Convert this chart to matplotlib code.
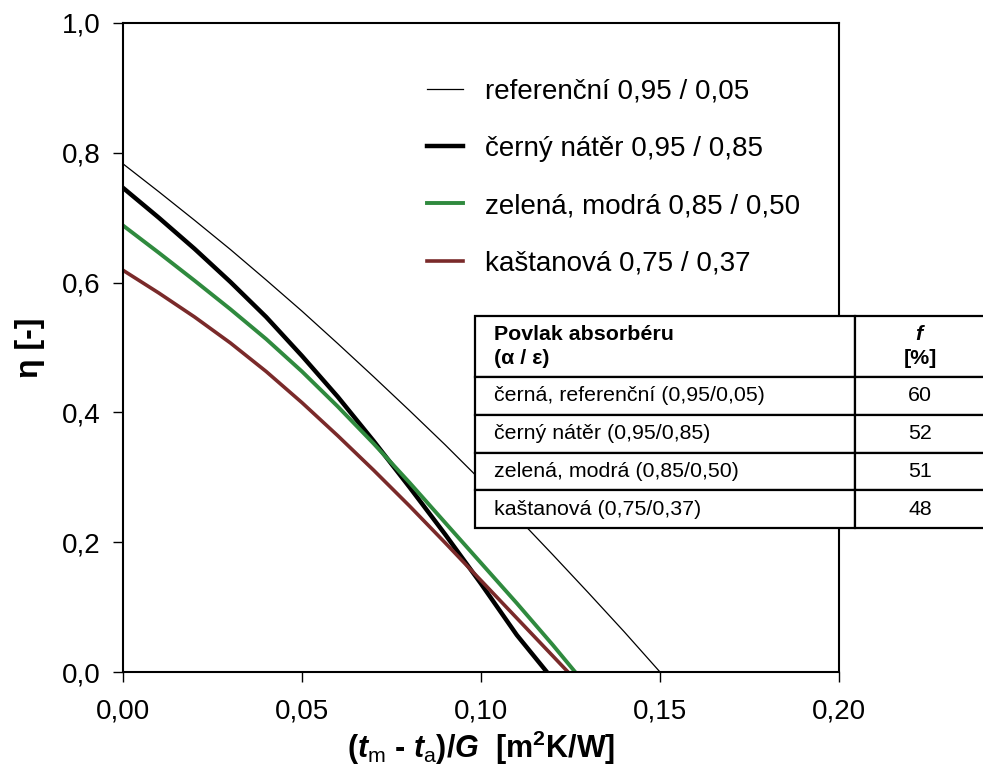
import numpy as np
import matplotlib.pyplot as plt
from matplotlib.ticker import FixedLocator, FixedFormatter

plt.rcParams['font.family'] = ['Liberation Sans', 'DejaVu Sans']
plt.rcParams['mathtext.fontset'] = 'custom'
plt.rcParams['mathtext.rm'] = 'Liberation Sans'
plt.rcParams['mathtext.it'] = 'Liberation Sans:italic:bold'
plt.rcParams['mathtext.bf'] = 'Liberation Sans:bold'

# curves: x = (tm - ta)/G, y = efficiency
x_ref = [0.0, 0.01, 0.02, 0.03, 0.04, 0.05, 0.06, 0.07, 0.08, 0.09, 0.10,
         0.11, 0.12, 0.13, 0.14, 0.150]
y_ref = [0.783, 0.740, 0.696, 0.651, 0.604, 0.556, 0.506, 0.455, 0.403, 0.350,
         0.295, 0.239, 0.181, 0.122, 0.062, 0.0]

x_black = [0.0, 0.01, 0.02, 0.03, 0.04, 0.05, 0.06, 0.07, 0.08, 0.09, 0.10,
           0.11, 0.1184]
y_black = [0.746, 0.700, 0.652, 0.601, 0.547, 0.487, 0.424, 0.356, 0.285, 0.212,
           0.136, 0.057, 0.0]

x_green = [0.0, 0.01, 0.02, 0.03, 0.04, 0.05, 0.06, 0.07, 0.08, 0.09, 0.10,
           0.11, 0.12, 0.1263]
y_green = [0.688, 0.646, 0.603, 0.559, 0.513, 0.463, 0.409, 0.352, 0.292, 0.230,
           0.168, 0.106, 0.042, 0.0]

x_brown = [0.0, 0.01, 0.02, 0.03, 0.04, 0.05, 0.06, 0.07, 0.08, 0.09, 0.10,
           0.11, 0.12, 0.1243]
y_brown = [0.619, 0.584, 0.547, 0.507, 0.463, 0.415, 0.364, 0.311, 0.256, 0.199,
           0.141, 0.083, 0.025, 0.0]

legend_labels = ['referenční 0,95 / 0,05', 'černý nátěr 0,95 / 0,85',
                 'zelená, modrá 0,85 / 0,50', 'kaštanová 0,75 / 0,37']

xticks = [0.0, 0.05, 0.10, 0.15, 0.20]
xtick_labels = ['0,00', '0,05', '0,10', '0,15', '0,20']
yticks = [0.0, 0.2, 0.4, 0.6, 0.8, 1.0]
ytick_labels = ['0,0', '0,2', '0,4', '0,6', '0,8', '1,0']

table_header = ['Povlak absorbéru\n(α / ε)', '$\\mathit{f}$\n[%]']
table_names = ['černá, referenční (0,95/0,05)', 'černý nátěr (0,95/0,85)',
               'zelená, modrá (0,85/0,50)', 'kaštanová (0,75/0,37)']
table_f = ['60', '52', '51', '48']

fig = plt.figure(figsize=(9.83, 7.78), dpi=100)
ax = fig.add_axes([123/983, 106/778, 716/983, 649/778])

ax.plot(x_ref, y_ref, color='black', lw=0.9, label=legend_labels[0])
ax.plot(x_black, y_black, color='black', lw=3.2, label=legend_labels[1])
ax.plot(x_green, y_green, color='#2f8a3e', lw=2.8, label=legend_labels[2])
ax.plot(x_brown, y_brown, color='#7a2a2a', lw=2.6, label=legend_labels[3])

ax.set_xlim(0, 0.20)
ax.set_ylim(0, 1.0)
ax.xaxis.set_major_locator(FixedLocator(xticks))
ax.xaxis.set_major_formatter(FixedFormatter(xtick_labels))
ax.yaxis.set_major_locator(FixedLocator(yticks))
ax.yaxis.set_major_formatter(FixedFormatter(ytick_labels))
ax.tick_params(axis='both', direction='out', length=7, width=1, labelsize=20)
ax.tick_params(axis='x', pad=12)
ax.tick_params(axis='y', pad=9)
for sp in ax.spines.values():
    sp.set_linewidth(1.5)

ax.set_xlabel('($\\mathit{t}_{\\mathrm{m}}$ - $\\mathit{t}_{\\mathrm{a}}$)/$\\mathit{G}$  [m$^{\\mathbf{2}}$K/W]',
              fontsize=22, fontweight='bold', labelpad=3)
ax.set_ylabel('η [-]', fontsize=23, fontweight='bold', labelpad=12)

leg = ax.legend(loc='upper left', bbox_to_anchor=(427/983, 1 - 79/778),
                bbox_transform=fig.transFigure, frameon=False, fontsize=20,
                handlelength=1.3, handletextpad=0.8, labelspacing=1.12,
                borderpad=0, borderaxespad=0)

# table with the f values
tax = fig.add_axes([475/983, 250/778, 510/983, 212/778])
tax.axis('off')
cells = [table_header] + [[n, f] for n, f in zip(table_names, table_f)]
tbl = tax.table(cellText=cells, bbox=[0, 0, 1, 1], colWidths=[380/510, 130/510],
                cellLoc='left')
tbl.auto_set_font_size(False)
tbl.set_fontsize(15.4)
for (r, c), cell in tbl.get_celld().items():
    cell.set_linewidth(1.6)
    cell.PAD = 0.05
    cell.set_height(61 if r == 0 else 37.75)
    if c == 1:
        cell.get_text().set_horizontalalignment('center')
        cell._loc = 'center'
    if r == 0:
        cell.get_text().set_fontweight('bold')
        cell.get_text().set_linespacing(1.4)

fig.savefig('out.png', dpi=100)
